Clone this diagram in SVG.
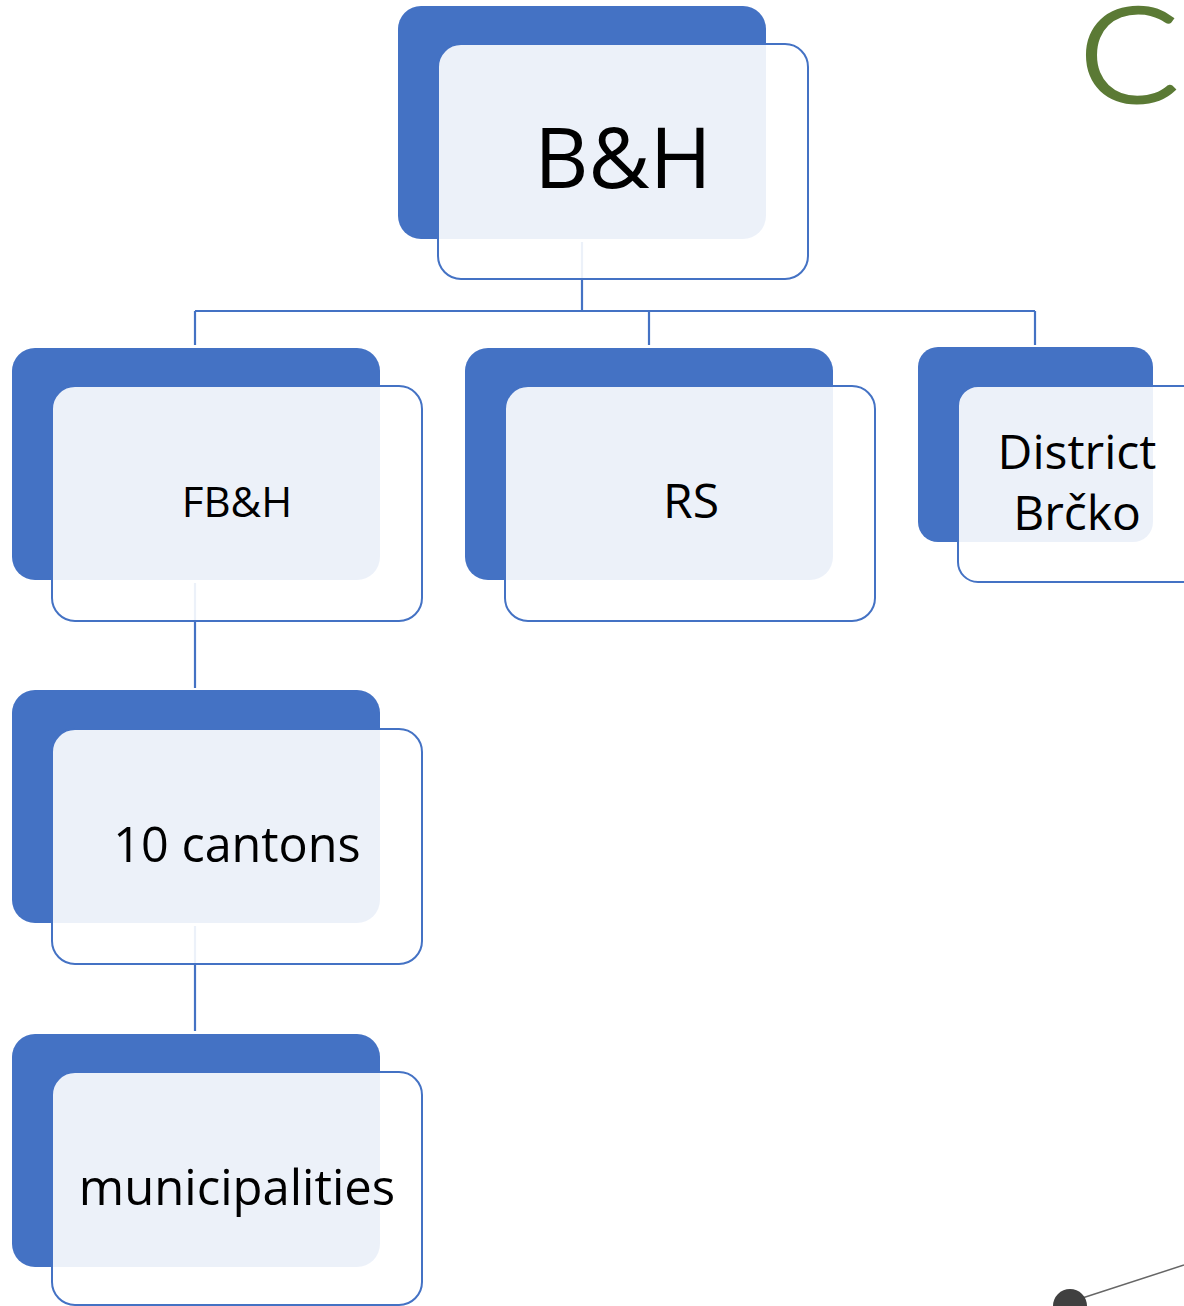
<svg xmlns="http://www.w3.org/2000/svg" width="1184" height="1306" viewBox="0 0 1184 1306">
<style>
.back{fill:#4472C4}
.front{fill:#FFFFFF;fill-opacity:0.9;stroke:#4472C4;stroke-width:2}
.conn{stroke:#4472C4;stroke-width:2.2;fill:none}
.lbl{font-family:"Open Sans","Liberation Sans",sans-serif;fill:#000;text-anchor:middle}
</style>
<rect width="1184" height="1306" fill="#FFFFFF"/>
<g id="connectors">
<path class="conn" d="M582 242V311M195 311H1035M195 311V345M649 311V345M1035 311V345"/>
<path class="conn" d="M195 583V688"/>
<path class="conn" d="M195 926V1031"/>
</g>
<g id="node-bh">
<rect class="back" x="398" y="6" width="368" height="233" rx="23"/>
<rect class="front" x="438" y="44" width="370" height="235" rx="23"/>
<text class="lbl" x="623" y="188" font-size="84">B&amp;H</text>
</g>
<g id="node-fbh">
<rect class="back" x="12" y="348" width="368" height="232" rx="23"/>
<rect class="front" x="52" y="386" width="370" height="235" rx="23"/>
<text class="lbl" x="237" y="517" font-size="42">FB&amp;H</text>
</g>
<g id="node-rs">
<rect class="back" x="465" y="348" width="368" height="232" rx="23"/>
<rect class="front" x="505" y="386" width="370" height="235" rx="23"/>
<text class="lbl" x="691" y="518" font-size="48">RS</text>
</g>
<g id="node-brcko">
<rect class="back" x="918" y="347" width="235" height="195" rx="20"/>
<rect class="front" x="958" y="386" width="260" height="196" rx="20"/>
<text class="lbl" x="1077" y="469" font-size="48">District</text>
<text class="lbl" x="1077" y="530" font-size="48">Brčko</text>
</g>
<g id="node-cantons">
<rect class="back" x="12" y="690" width="368" height="233" rx="23"/>
<rect class="front" x="52" y="729" width="370" height="235" rx="23"/>
<text class="lbl" x="237" y="862" font-size="48.5">10 cantons</text>
</g>
<g id="node-municipalities">
<rect class="back" x="12" y="1034" width="368" height="233" rx="23"/>
<rect class="front" x="52" y="1072" width="370" height="233" rx="23"/>
<text class="lbl" x="237" y="1205" font-size="49">municipalities</text>
</g>
<g id="decor">
<text transform="translate(1079,102) scale(1.12,1)" font-family="Lato,'Open Sans',sans-serif" font-weight="300" font-size="132" fill="#5B7A35" stroke="#5B7A35" stroke-width="3">C</text>
<line x1="1070" y1="1302" x2="1184" y2="1265" stroke="#666" stroke-width="1.5"/>
<circle cx="1070" cy="1306" r="17" fill="#404040"/>
</g>
</svg>
